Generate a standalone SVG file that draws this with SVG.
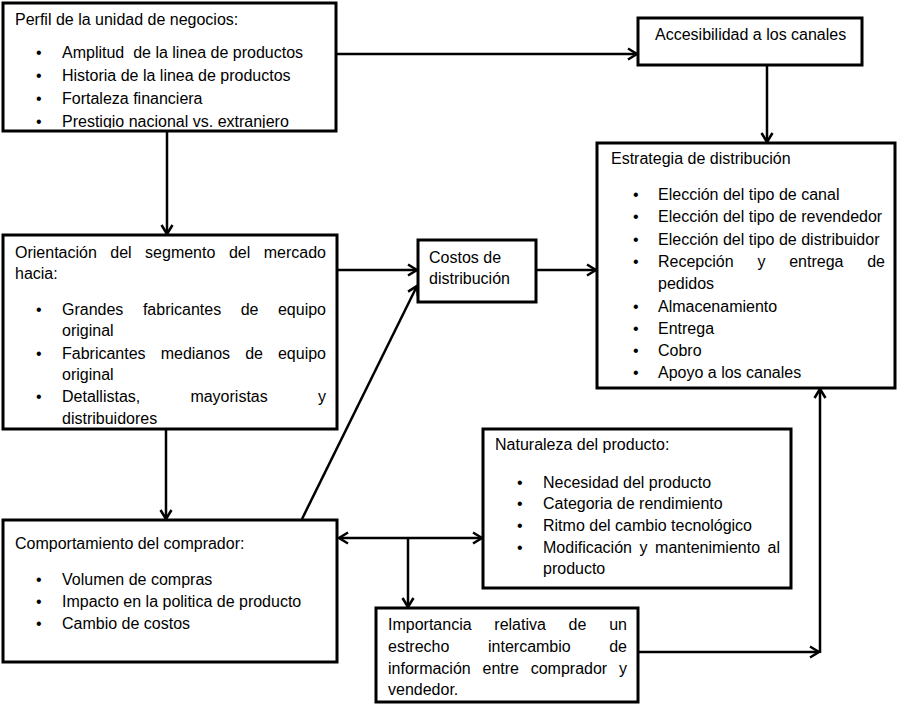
<svg xmlns="http://www.w3.org/2000/svg" width="900" height="705" viewBox="0 0 900 705">
<style>
.box{fill:#fff;stroke:#000;stroke-width:3}
text{font-family:"Liberation Sans",Arial,sans-serif;font-size:16px;fill:#000}
.c{fill:none;stroke:#000;stroke-width:2.5}
</style>
<defs>
<marker id="arr" markerUnits="userSpaceOnUse" markerWidth="14" markerHeight="14" viewBox="0 0 14 14" refX="11" refY="7" orient="auto-start-reverse">
<path d="M2,1.5 L11,7 L2,12.5" fill="none" stroke="#000" stroke-width="2.5"/>
</marker>
<clipPath id="clipPerfil"><rect x="3" y="3" width="333" height="125"/></clipPath>
</defs>
<rect width="900" height="705" fill="#fff"/>

<g id="connectors">
<line class="c" x1="337" y1="54" x2="637" y2="54" marker-end="url(#arr)"/>
<line class="c" x1="767" y1="66" x2="767" y2="142" marker-end="url(#arr)"/>
<line class="c" x1="167" y1="132" x2="167" y2="234" marker-end="url(#arr)"/>
<line class="c" x1="166" y1="430" x2="166" y2="519" marker-end="url(#arr)"/>
<line class="c" x1="337" y1="270" x2="417" y2="270" marker-end="url(#arr)"/>
<line class="c" x1="536" y1="270" x2="596" y2="270" marker-end="url(#arr)"/>
<line class="c" x1="302" y1="519" x2="417" y2="286" marker-end="url(#arr)"/>
<line class="c" x1="339" y1="538" x2="482" y2="538" marker-start="url(#arr)" marker-end="url(#arr)"/>
<line class="c" x1="408" y1="538" x2="408" y2="607" marker-end="url(#arr)"/>
<line class="c" x1="638" y1="652" x2="819" y2="652" marker-end="url(#arr)"/>
<line class="c" x1="820" y1="653" x2="820" y2="389" marker-end="url(#arr)"/>
</g>

<g id="perfil">
<rect class="box" x="3" y="3" width="333" height="128"/>
<g clip-path="url(#clipPerfil)">
<text x="15" y="25">Perfil de la unidad de negocios:</text>
<text x="36" y="58">•</text><text x="62" y="58" xml:space="preserve">Amplitud  de la linea de productos</text>
<text x="36" y="81">•</text><text x="62" y="81">Historia de la linea de productos</text>
<text x="36" y="104">•</text><text x="62" y="104">Fortaleza financiera</text>
<text x="36" y="126.5">•</text><text x="62" y="126.5">Prestigio nacional vs. extranjero</text>
</g>
</g>

<g id="accesibilidad">
<rect class="box" x="638" y="18" width="224" height="47"/>
<text x="655" y="40">Accesibilidad a los canales</text>
</g>

<g id="orientacion">
<rect class="box" x="3" y="235" width="334" height="194"/>
<text y="258"><tspan x="15">Orientación</tspan><tspan x="110.3">del</tspan><tspan x="145.1">segmento</tspan><tspan x="228.9">del</tspan><tspan x="326" text-anchor="end">mercado</tspan></text>
<text x="15" y="279">hacia:</text>
<text x="36" y="315">•</text>
<text y="315"><tspan x="62">Grandes</tspan><tspan x="142.9">fabricantes</tspan><tspan x="240.7">de</tspan><tspan x="326" text-anchor="end">equipo</tspan></text>
<text x="62" y="336">original</text>
<text x="36" y="359">•</text>
<text y="359"><tspan x="62">Fabricantes</tspan><tspan x="160.7">medianos</tspan><tspan x="245.2">de</tspan><tspan x="326" text-anchor="end">equipo</tspan></text>
<text x="62" y="380">original</text>
<text x="36" y="402">•</text>
<text y="402"><tspan x="62">Detallistas,</tspan><tspan x="190.4">mayoristas</tspan><tspan x="326" text-anchor="end">y</tspan></text>
<text x="62" y="424">distribuidores</text>
</g>

<g id="costos">
<rect class="box" x="418" y="240" width="118" height="62"/>
<text x="429" y="263">Costos de</text>
<text x="429" y="284">distribución</text>
</g>

<g id="estrategia">
<rect class="box" x="597" y="143" width="298" height="245"/>
<text x="611" y="164">Estrategia de distribución</text>
<text x="633" y="200">•</text><text x="658" y="200">Elección del tipo de canal</text>
<text x="633" y="222.3">•</text><text x="658" y="222.3">Elección del tipo de revendedor</text>
<text x="633" y="244.6">•</text><text x="658" y="244.6">Elección del tipo de distribuidor</text>
<text x="633" y="266.9">•</text>
<text y="266.9"><tspan x="658">Recepción</tspan><tspan x="757.4">y</tspan><tspan x="789.2">entrega</tspan><tspan x="885" text-anchor="end">de</tspan></text>
<text x="658" y="289.2">pedidos</text>
<text x="633" y="311.5">•</text><text x="658" y="311.5">Almacenamiento</text>
<text x="633" y="333.8">•</text><text x="658" y="333.8">Entrega</text>
<text x="633" y="356.1">•</text><text x="658" y="356.1">Cobro</text>
<text x="633" y="378.4">•</text><text x="658" y="378.4">Apoyo a los canales</text>
</g>

<g id="naturaleza">
<rect class="box" x="483" y="429" width="308" height="159"/>
<text x="495" y="450">Naturaleza del producto:</text>
<text x="517" y="488">•</text><text x="543" y="488">Necesidad del producto</text>
<text x="517" y="509">•</text><text x="543" y="509">Categoria de rendimiento</text>
<text x="517" y="531">•</text><text x="543" y="531">Ritmo del cambio tecnológico</text>
<text x="517" y="553">•</text>
<text y="553"><tspan x="543">Modificación</tspan><tspan x="639.5">y</tspan><tspan x="655.1">mantenimiento</tspan><tspan x="780" text-anchor="end">al</tspan></text>
<text x="543" y="574">producto</text>
</g>

<g id="comportamiento">
<rect class="box" x="3" y="520" width="334" height="142"/>
<text x="15" y="549">Comportamiento del comprador:</text>
<text x="36" y="585">•</text><text x="62" y="585">Volumen de compras</text>
<text x="36" y="607">•</text><text x="62" y="607">Impacto en la politica de producto</text>
<text x="36" y="629">•</text><text x="62" y="629">Cambio de costos</text>
</g>

<g id="importancia">
<rect class="box" x="376" y="608" width="262" height="94"/>
<text y="630"><tspan x="388">Importancia</tspan><tspan x="494.3">relativa</tspan><tspan x="568.6">de</tspan><tspan x="627" text-anchor="end">un</tspan></text>
<text y="652"><tspan x="388">estrecho</tspan><tspan x="488">intercambio</tspan><tspan x="627" text-anchor="end">de</tspan></text>
<text y="674"><tspan x="388">información</tspan><tspan x="482.5">entre</tspan><tspan x="530.7">comprador</tspan><tspan x="627" text-anchor="end">y</tspan></text>
<text x="388" y="695">vendedor.</text>
</g>
</svg>
